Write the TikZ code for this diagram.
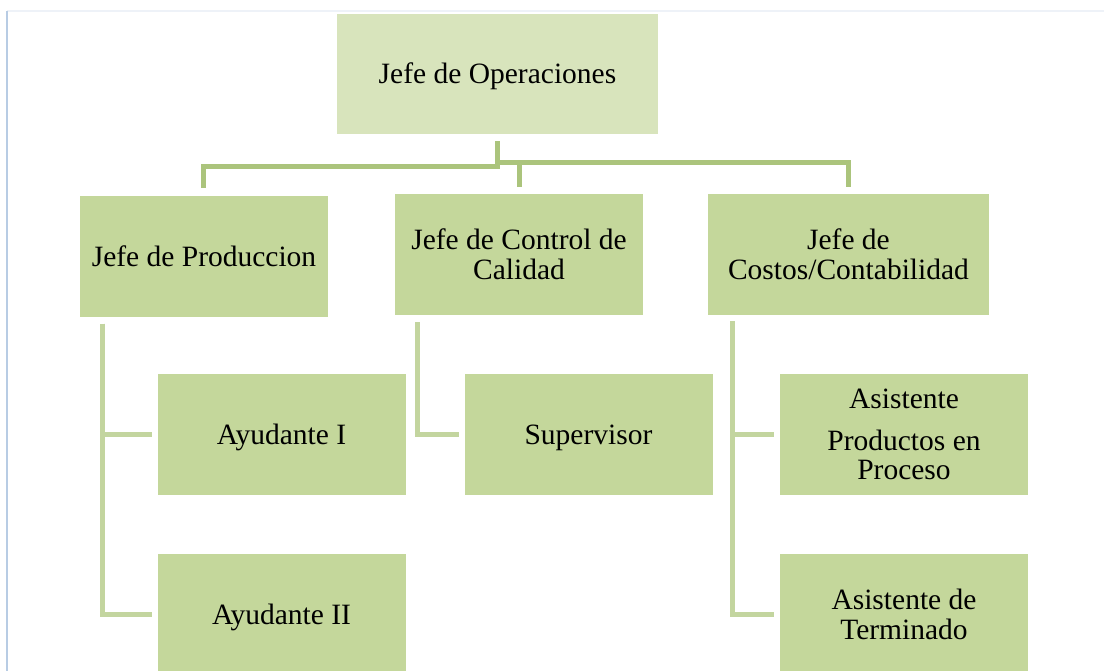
\documentclass[tikz,border=0pt]{standalone}
\usepackage{fontspec}
\setmainfont{Liberation Serif}
\usetikzlibrary{calc}
\definecolor{topfill}{HTML}{D8E4BC}
\definecolor{boxfill}{HTML}{C4D79B}
\definecolor{upline}{HTML}{ABC47C}
\definecolor{lowline}{HTML}{C3D59F}
\definecolor{frameleft}{HTML}{B8CCE4}
\definecolor{frametop}{HTML}{EEF2F8}
\tikzset{
  box/.style={fill=boxfill, draw=none, inner sep=0pt, align=center,
    minimum width=248pt, minimum height=121pt,
    font=\fontsize{29.5}{29.5}\selectfont},
  oneline/.style={text height=26.5pt, text depth=6.5pt},
  topbox/.style={box, oneline, fill=topfill, minimum width=321pt, minimum height=120pt},
  upconn/.style={draw=upline, line width=5pt, line join=miter},
  lowconn/.style={draw=lowline, line width=5pt, line join=miter}
}
\begin{document}
\begin{tikzpicture}[x=1pt,y=-1pt]
\useasboundingbox (0,0) rectangle (1104,671);
\clip (0,0) rectangle (1104,671);
% page frame
\draw[frametop, line width=1.5pt] (7,11) -- (1104,11);
\draw[frameleft, line width=1.5pt] (7,11) -- (7,671);

% boxes
\node[topbox] (ops) at (497.5,74) {Jefe de Operaciones};
\node[box, oneline] (prod) at (204,257) {Jefe de Produccion};
\node[box] (cal) at (519,254.5) {Jefe de Control de\\Calidad};
\node[box, minimum width=281pt] (cost) at (848.5,254.5) {Jefe de\\Costos/Contabilidad};
\node[box, oneline] (ay1) at (281.5,434.5) {Ayudante I};
\node[box, oneline] (ay2) at (281.5,614.5) {Ayudante II};
\node[box, oneline] (sup) at (588.5,434.5) {Supervisor};
\node[box] (as1) at (904,434.5) {Asistente\\[12pt]Productos en\\Proceso};
\node[box] (as2) at (904,614.5) {Asistente de\\Terminado};

% upper connectors
\coordinate (stem) at ($(ops.south)+(0,7)$);
\draw[upconn] (stem) -- ++(0,25) -| ($(prod.north)+(-1,-8)$);
\draw[upconn] (stem) -- ++(0,21) -| ($(cal.north)+(0,-7)$);
\draw[upconn] (stem) -- ++(0,21) -| ($(cost.north)+(0,-7)$);

% lower connectors
\draw[lowconn] ($(prod.south west)+(23,6)$) |- ($(ay1.west)+(-5,0)$);
\draw[lowconn] ($(prod.south west)+(23,6)$) |- ($(ay2.west)+(-5,0)$);
\draw[lowconn] ($(cal.south west)+(23,7)$) |- ($(sup.west)+(-5,0)$);
\draw[lowconn] ($(cost.south west)+(25,6)$) |- ($(as1.west)+(-6,0)$);
\draw[lowconn] ($(cost.south west)+(25,6)$) |- ($(as2.west)+(-6,0)$);
\end{tikzpicture}
\end{document}
